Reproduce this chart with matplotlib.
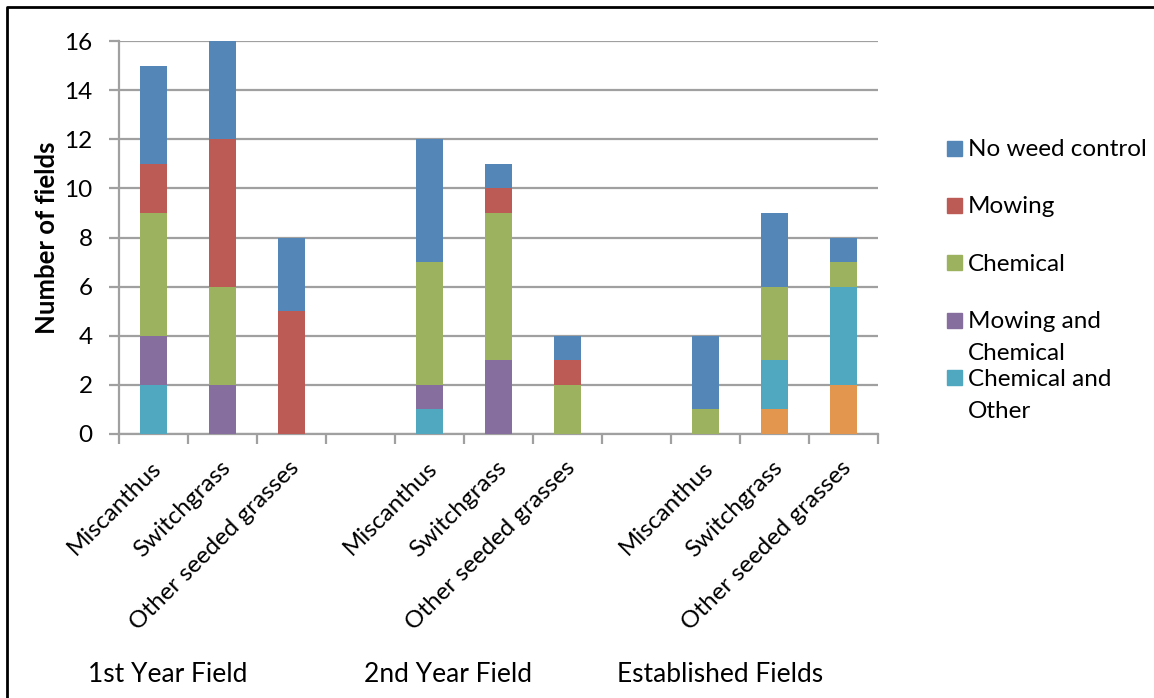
import matplotlib
matplotlib.use("Agg")
import matplotlib.pyplot as plt
from matplotlib.patches import Rectangle
import matplotlib.transforms as mtransforms
import numpy as np

plt.rcParams['font.family'] = ['Lato', 'DejaVu Sans']

# Crops per field age; empty strings are spacer slots between groups
categories = ["Miscanthus", "Switchgrass", "Other seeded grasses", "",
              "Miscanthus", "Switchgrass", "Other seeded grasses", "",
              "Miscanthus", "Switchgrass", "Other seeded grasses"]
groups = ["1st Year Field", "2nd Year Field", "Established Fields"]
group_x = [0.2, 4.27, 8.21]

# Stacked series, bottom to top
other = [0, 0, 0, 0, 0, 0, 0, 0, 0, 1, 2]
chem_other = [2, 0, 0, 0, 1, 0, 0, 0, 0, 2, 4]
mow_chem = [2, 2, 0, 0, 1, 3, 0, 0, 0, 0, 0]
chemical = [5, 4, 0, 0, 5, 6, 2, 0, 1, 3, 1]
mowing = [2, 6, 5, 0, 0, 1, 1, 0, 0, 0, 0]
no_control = [4, 4, 3, 0, 5, 1, 1, 0, 3, 3, 1]

series = [
    ("Other", other, "#E3974E", False),
    ("Chemical and\nOther", chem_other, "#50A8C0", True),
    ("Mowing and\nChemical", mow_chem, "#866E9E", True),
    ("Chemical", chemical, "#9DB25E", True),
    ("Mowing", mowing, "#BC5A55", True),
    ("No weed control", no_control, "#5586B8", True),
]

yticks = [0, 2, 4, 6, 8, 10, 12, 14, 16]

W, H = 1154.0, 698.0
FS = 17.5

fig = plt.figure(figsize=(W / 100, H / 100), dpi=100)
ax = fig.add_axes([119 / W, 1 - 434 / H, (878 - 119) / W, (434 - 41) / H])

x = np.arange(len(categories))
bottom = np.zeros(len(categories))
for name, vals, color, _ in series:
    vals = np.array(vals, dtype=float)
    ax.bar(x, vals, width=0.39, bottom=bottom, color=color, linewidth=0, zorder=3)
    bottom += vals

grid_c = "#A0A0A0"
ax.set_xlim(-0.5, len(categories) - 0.5)
ax.set_ylim(0, 16)
ax.set_yticks(yticks)
ax.set_yticklabels([str(v) for v in yticks], fontsize=FS)
ax.yaxis.grid(True, color=grid_c, linewidth=1.6, zorder=0)
ax.set_axisbelow(True)
for s in ("top", "right"):
    ax.spines[s].set_visible(False)
for s in ("left", "bottom"):
    ax.spines[s].set_color(grid_c)
    ax.spines[s].set_linewidth(1.6)
ax.tick_params(axis="y", length=7, width=1.6, color=grid_c, pad=12)
ax.set_xticks(np.arange(-0.5, len(categories), 1.0))
ax.set_xticklabels([])
ax.tick_params(axis="x", length=7, width=1.6, color=grid_c)
ax.set_ylabel("Number of fields", fontsize=18.5, fontweight="bold", labelpad=4)

# Rotated crop labels, anchored just right of each slot centre
xa = mtransforms.blended_transform_factory(ax.transData, ax.transAxes)
shift = mtransforms.ScaledTranslation(-3 / 100, -23 / 100, fig.dpi_scale_trans)
for xi, lab in zip(x, categories):
    if lab:
        ax.text(xi, 0, lab, rotation=45, ha="right", va="top",
                rotation_mode="anchor", fontsize=FS, transform=xa + shift)

# Group labels
for gx, g in zip(group_x, groups):
    ax.text(gx, 1 - 675 / H, g, ha="center", va="center", fontsize=19,
            transform=mtransforms.blended_transform_factory(ax.transData, fig.transFigure))

# Legend
leg_y = [148, 205, 263, 320, 378]
leg_items = [s for s in reversed(series) if s[3]]
for (name, _, color, _), py in zip(leg_items, leg_y):
    fig.patches.append(Rectangle((947 / W, 1 - (py + 7.5) / H), 15 / W, 15 / H,
                                 transform=fig.transFigure, color=color))
    for i, line in enumerate(name.split("\n")):
        fig.text(968 / W, 1 - (py + 8 + 32 * i) / H, line, ha="left",
                 va="baseline", fontsize=FS)

# Outer frame (top and left edges)
fig.lines.append(plt.Line2D([7 / W, 7 / W, 1.0], [0.0, 1 - 7 / H, 1 - 7 / H],
                            transform=fig.transFigure, color="black", linewidth=2))

fig.savefig("out.png", dpi=100)
